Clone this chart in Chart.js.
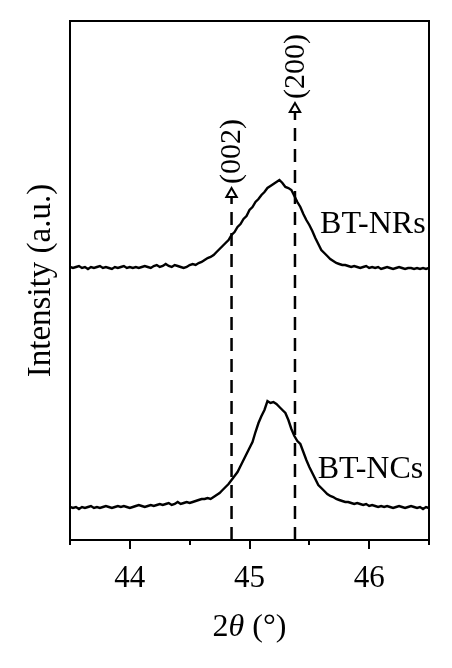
<!DOCTYPE html>
<html>
  <head>
    <meta charset="utf-8"/>
    <style>
      html, body { margin: 0; padding: 0; background: #fff; }
    </style>
  </head>
  <body>
    <div id="canvas-holder" style="width:452px;height:668px">
        <canvas id="chart-area" width="452" height="668"></canvas>
    </div>

    <script src="https://cdn.jsdelivr.net/npm/chart.js@4/dist/chart.umd.min.js"></script>
    <script>
        // 2theta from 43.5 to 46.5, step 0.025
        var twoTheta = [];
        for (var k = 0; k <= 120; k++) {
            twoTheta.push(+(43.5 + k * 0.025).toFixed(3));
        }

        // intensity, arbitrary units (curves are offset)
        var nrsIntensity = [
            273,272,273,274,272,273,271,273,272,273,274,
            272,273,272,271,273,272,273,274,272,273,
            272,273,272,273,274,273,272,274,275,273,
            274,276,274,273,275,274,273,272,273,275,
            276,275,277,278,280,282,283,285,288,291,
            294,297,300,305,308,313,316,321,324,330,
            333,338,341,345,348,352,354,356,358,360,
            357,353,352,350,344,338,333,326,320,315,
            309,302,296,290,287,284,281,279,277,276,
            275,275,274,273,274,273,272,273,274,272,
            273,272,273,271,272,273,272,271,272,273,
            272,271,272,272,271,272,271,272,271,272
        ];
        var ncsIntensity = [
            33,32,33,31,33,32,33,34,32,33,32,
            33,34,33,32,33,34,33,34,33,32,
            33,34,35,34,33,34,35,34,35,36,
            35,36,37,35,36,38,36,37,38,37,
            38,39,40,41,41,42,41,43,45,47,
            50,53,56,60,64,68,74,80,86,92,
            98,108,117,124,130,139,137,138,136,133,
            130,127,120,111,104,99,96,88,80,73,
            67,61,55,52,49,46,44,43,41,40,
            39,38,38,37,36,37,36,35,36,34,
            35,34,33,34,33,34,33,32,33,34,
            33,32,33,34,33,32,33,31,33,32
        ];

        var seriesNames = ['BT-NRs', 'BT-NCs'];
        var seriesLabelPos = [[45.59, 307], [45.57, 62]];

        var peakNames = ['(002)', '(200)'];
        var peakPos = [44.85, 45.38];
        var peakArrowTop = [346, 431];

        var xTickLabels = [44, 45, 46];
        var xMinorTicks = [43.5, 44.5, 45.5, 46.5];

        var serif = '"Liberation Serif", "DejaVu Serif", serif';

        var toPoints = function(xs, ys) {
            var out = [];
            for (var i = 0; i < xs.length; i++) {
                out.push({x: xs[i], y: ys[i]});
            }
            return out;
        };

        var datasets = [];
        var i;
        for (i = 0; i < peakPos.length; i++) {
            datasets.push({
                data: [{x: peakPos[i], y: 0}, {x: peakPos[i], y: peakArrowTop[i] - 3}],
                borderColor: '#000',
                borderWidth: 2.5,
                borderDash: [13, 8],
                pointRadius: 0
            });
            datasets.push({
                data: [{x: peakPos[i], y: peakArrowTop[i]}],
                showLine: false,
                pointStyle: 'triangle',
                pointRadius: 6,
                pointBackgroundColor: '#fff',
                pointBorderColor: '#000',
                pointBorderWidth: 2
            });
        }
        datasets.push({
            data: toPoints(twoTheta, nrsIntensity),
            borderColor: '#000',
            borderWidth: 2.4,
            pointRadius: 0
        });
        datasets.push({
            data: toPoints(twoTheta, ncsIntensity),
            borderColor: '#000',
            borderWidth: 2.4,
            pointRadius: 0
        });

        // frame, tick marks, peak / series labels, x title
        var decorations = {
            id: 'decorations',
            afterDraw: function(chart) {
                var c = chart.ctx;
                var a = chart.chartArea;
                var xs = chart.scales.x;
                var ys = chart.scales.y;
                c.save();
                c.strokeStyle = '#000';
                c.lineWidth = 2;
                c.strokeRect(a.left, a.top, a.right - a.left, a.bottom - a.top);

                var all = xTickLabels.concat(xMinorTicks);
                for (var j = 0; j < all.length; j++) {
                    var px = Math.round(xs.getPixelForValue(all[j]));
                    var len = xTickLabels.indexOf(all[j]) >= 0 ? 9 : 5;
                    c.beginPath();
                    c.moveTo(px, a.bottom);
                    c.lineTo(px, a.bottom + len);
                    c.stroke();
                }

                c.fillStyle = '#000';
                c.font = '32px ' + serif;
                c.textAlign = 'left';
                c.textBaseline = 'alphabetic';
                for (j = 0; j < seriesNames.length; j++) {
                    c.fillText(seriesNames[j],
                        xs.getPixelForValue(seriesLabelPos[j][0]),
                        ys.getPixelForValue(seriesLabelPos[j][1]));
                }

                c.font = '30px ' + serif;
                for (j = 0; j < peakNames.length; j++) {
                    c.save();
                    c.translate(xs.getPixelForValue(peakPos[j]),
                                ys.getPixelForValue(peakArrowTop[j]) - 10);
                    c.rotate(-Math.PI / 2);
                    c.textBaseline = 'middle';
                    c.fillText(peakNames[j], 0, 1);
                    c.restore();
                }

                // x title: 2θ (°) with italic theta
                var f = '32px ' + serif;
                var fi = 'italic 32px ' + serif;
                var parts = [['2', f], ['θ', fi], [' (°)', f]];
                var w = 0;
                for (j = 0; j < parts.length; j++) {
                    c.font = parts[j][1];
                    w += c.measureText(parts[j][0]).width;
                }
                var cx = (a.left + a.right) / 2 - w / 2;
                for (j = 0; j < parts.length; j++) {
                    c.font = parts[j][1];
                    c.fillText(parts[j][0], cx, 636);
                    cx += c.measureText(parts[j][0]).width;
                }
                c.restore();
            }
        };

        var ctx = document.getElementById('chart-area').getContext('2d');
        var chart = new Chart(ctx, {
            type: 'line',
            data: { datasets: datasets },
            plugins: [decorations],
            options: {
                responsive: false,
                animation: false,
                layout: { padding: { top: 21, right: 23, left: 0, bottom: 0 } },
                plugins: {
                    legend: { display: false },
                    tooltip: { enabled: false }
                },
                scales: {
                    x: {
                        type: 'linear',
                        min: 43.5,
                        max: 46.5,
                        afterBuildTicks: function(s) {
                            s.ticks = xTickLabels.map(function(v) { return {value: v}; });
                        },
                        afterFit: function(s) { s.height = 128; },
                        grid: { display: false, drawTicks: false },
                        border: { display: true, color: '#000', width: 2 },
                        ticks: {
                            color: '#000',
                            padding: 20,
                            maxRotation: 0,
                            font: { family: serif, size: 31 }
                        }
                    },
                    y: {
                        min: 0,
                        max: 519,
                        afterFit: function(s) { s.width = 70; },
                        grid: { display: false, drawTicks: false },
                        border: { display: true, color: '#000', width: 2 },
                        ticks: { display: false },
                        title: {
                            display: true,
                            text: 'Intensity (a.u.)',
                            color: '#000',
                            padding: { top: 22, bottom: 0 },
                            font: { family: serif, size: 33 }
                        }
                    }
                }
            }
        });
    </script>
  </body>
</html>
